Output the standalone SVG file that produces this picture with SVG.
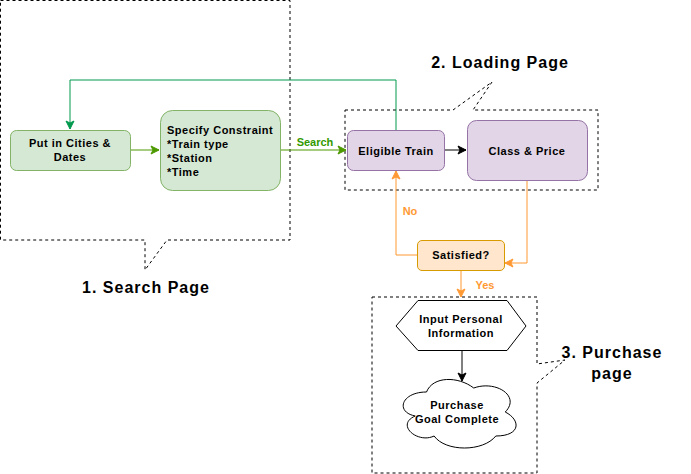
<svg xmlns="http://www.w3.org/2000/svg" width="691" height="474" viewBox="0 0 691 474">
  <style>
    text { font-family: "Comic Sans MS", "Liberation Sans", Arial, sans-serif; font-weight: bold; }
    .node { font-size: 11px; fill: #000; letter-spacing: 0.5px; }
    .title { font-size: 16px; fill: #000; letter-spacing: 1px; }
    .callout { fill: none; stroke: #000; stroke-width: 1; stroke-dasharray: 3 3; }
    .green { fill: #d5e8d4; stroke: #82b366; }
    .purple { fill: #e1d5e7; stroke: #9673a6; }
    .orange { fill: #ffe6cc; stroke: #d79b00; }
    .edge { fill: none; stroke-width: 1; }
  </style>
  <defs>
    <marker id="arrGreen" markerWidth="10" markerHeight="10" refX="9" refY="5" orient="auto" markerUnits="userSpaceOnUse">
      <path d="M1,1 L9,5 L1,9 L3,5 Z" fill="#4d9900" stroke="#4d9900"/>
    </marker>
    <marker id="arrTeal" markerWidth="10" markerHeight="10" refX="9" refY="5" orient="auto" markerUnits="userSpaceOnUse">
      <path d="M1,1 L9,5 L1,9 L3,5 Z" fill="#00994d" stroke="#00994d"/>
    </marker>
    <marker id="arrBlack" markerWidth="10" markerHeight="10" refX="9" refY="5" orient="auto" markerUnits="userSpaceOnUse">
      <path d="M1,1 L9,5 L1,9 L3,5 Z" fill="#000" stroke="#000"/>
    </marker>
    <marker id="arrOrange" markerWidth="10" markerHeight="10" refX="9" refY="5" orient="auto" markerUnits="userSpaceOnUse">
      <path d="M1,1 L9,5 L1,9 L3,5 Z" fill="#ff9933" stroke="#ff9933"/>
    </marker>
  </defs>
  <rect width="691" height="474" fill="#fff"/>

  <!-- page callouts -->
  <g id="search-page">
    <path class="callout" d="M0.5,0.5 H290 V240 H167 L145,270 V240 H0.5 Z"/>
    <text class="title" x="146" y="293" text-anchor="middle">1. Search Page</text>
  </g>
  <g id="loading-page">
    <path class="callout" d="M345,110 H453 L492,82 L473,110 H598 V190 H345 Z"/>
    <text class="title" x="500" y="68" text-anchor="middle">2. Loading Page</text>
  </g>
  <g id="purchase-page">
    <path class="callout" d="M372,297 H537 V364 L565,360 L537,383 V473 H372 Z"/>
    <text class="title" x="612" y="358" text-anchor="middle">3. Purchase</text>
    <text class="title" x="612" y="379" text-anchor="middle">page</text>
  </g>

  <!-- connectors -->
  <g id="connectors">
    <path class="edge" stroke="#4d9900" d="M130,150 H159" marker-end="url(#arrGreen)"/>
    <path class="edge" stroke="#4d9900" d="M280,150 H346" marker-end="url(#arrGreen)"/>
    <text x="315" y="146" text-anchor="middle" font-size="11" fill="#339900">Search</text>
    <path class="edge" stroke="#00994d" d="M396,130 V80 H70 V129" marker-end="url(#arrTeal)"/>
    <path class="edge" stroke="#000" d="M445,150 H466" marker-end="url(#arrBlack)"/>
    <path class="edge" stroke="#ff9933" d="M527,180 V263 H505" marker-end="url(#arrOrange)"/>
    <path class="edge" stroke="#ff9933" d="M417,255 H396 V171" marker-end="url(#arrOrange)"/>
    <text x="410" y="215" text-anchor="middle" font-size="11" fill="#ff9933">No</text>
    <path class="edge" stroke="#ff9933" d="M461,270 V297" marker-end="url(#arrOrange)"/>
    <text x="485" y="289" text-anchor="middle" font-size="11" fill="#ff9933">Yes</text>
    <path class="edge" stroke="#000" d="M462,350 V381" marker-end="url(#arrBlack)"/>
  </g>

  <!-- nodes -->
  <g id="cities-dates">
    <rect class="green" x="10.5" y="130.5" width="120" height="40" rx="6"/>
    <text class="node" x="70" y="147" text-anchor="middle">Put in Cities &amp;</text>
    <text class="node" x="70" y="161" text-anchor="middle">Dates</text>
  </g>
  <g id="constraint">
    <rect class="green" x="160.5" y="110.5" width="120" height="80" rx="12"/>
    <text class="node" x="167" y="134">Specify Constraint</text>
    <text class="node" x="167" y="148">*Train type</text>
    <text class="node" x="167" y="162">*Station</text>
    <text class="node" x="167" y="176">*Time</text>
  </g>
  <g id="eligible-train">
    <rect class="purple" x="347.5" y="130.5" width="97" height="40" rx="6"/>
    <text class="node" x="396" y="155" text-anchor="middle">Eligible Train</text>
  </g>
  <g id="class-price">
    <rect class="purple" x="467.5" y="120.5" width="120" height="60" rx="9"/>
    <text class="node" x="527" y="155" text-anchor="middle">Class &amp; Price</text>
  </g>
  <g id="satisfied">
    <rect class="orange" x="417.5" y="240.5" width="87" height="30" rx="4.5"/>
    <text class="node" x="461" y="259" text-anchor="middle">Satisfied?</text>
  </g>
  <g id="personal-info">
    <polygon points="396,326 418,300.5 507,300.5 526,326 507,350.5 418,350.5" fill="#fff" stroke="#000"/>
    <text class="node" x="461" y="323" text-anchor="middle">Input Personal</text>
    <text class="node" x="461" y="337" text-anchor="middle">Information</text>
  </g>
  <g id="goal-complete">
    <path d="M426.5,392 C401.3,392 395,412 415.2,416 C395,424.8 417.7,444 434.1,436 C445.4,452 483.2,452 495.8,436 C521,436 521,420 505.25,412 C521,396 495.8,380 473.75,388 C458,376 432.8,376 426.5,392 Z" fill="#fff" stroke="#000"/>
    <text class="node" x="457" y="409" text-anchor="middle">Purchase</text>
    <text class="node" x="457" y="423" text-anchor="middle">Goal Complete</text>
  </g>
</svg>
